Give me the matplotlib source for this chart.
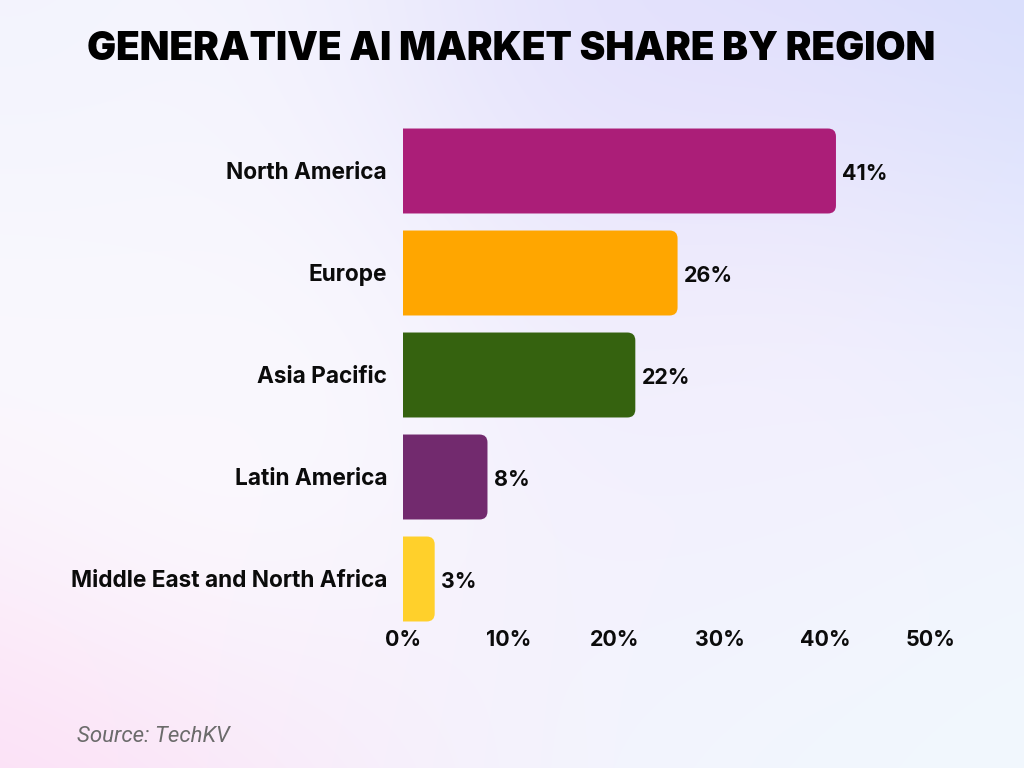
import numpy as np
import matplotlib
matplotlib.use('Agg')
import matplotlib.pyplot as plt
from matplotlib.path import Path
from matplotlib.patches import PathPatch
from matplotlib.colors import to_rgb
from matplotlib.transforms import ScaledTranslation

regions = ['North America', 'Europe', 'Asia Pacific', 'Latin America', 'Middle East and North Africa']
shares = [41, 26, 22, 8, 3]
bar_colors = ['#AB1E78', '#FFA600', '#35620F', '#722A6E', '#FFD02B']
xticks = [0, 10, 20, 30, 40, 50]

W, H = 1024, 768
plt.rcParams['font.family'] = ['Inter', 'DejaVu Sans']
fig = plt.figure(figsize=(W/100, H/100), dpi=100)

# background, soft blend of a few colour spots
bg = fig.add_axes([0, 0, 1, 1], zorder=0)
bg.axis('off')
yy, xx = np.mgrid[0:H, 0:W]
base = np.array(to_rgb('#F6F4FD'))
img = np.ones((H, W, 3)) * base
spots = [(1024, 0, 400, '#D3DBFD', 1.0), (0, 768, 300, '#FCDDF5', 1.0), (1024, 768, 380, '#F1F8FE', 1.0),
         (0, 220, 260, '#FCFBFE', 0.9), (680, 90, 220, '#E2DDFC', 0.7), (250, 420, 200, '#FBFAFE', 0.8),
         (760, 400, 200, '#F8F2FD', 0.6), (0, 0, 200, '#F2F3FD', 0.8)]
for sx, sy, r, c, a in spots:
    w = a*np.exp(-((xx-sx)**2+(yy-sy)**2)/(2*r**2))[..., None]
    img = img*(1-w) + np.array(to_rgb(c))*w
bg.imshow(img, aspect='auto', extent=[0, W, H, 0])

ax = fig.add_axes([403/W, 1-630/H, (931-403)/W, 510/H], zorder=1)
ax.patch.set_alpha(0)
ax.set_xlim(0, 50)
ax.set_ylim(4.5, -0.5)

# bars with rounded right end
bar_h = 0.833
rx = 8/(528/50)
ry = 8/102
for i, (v, c) in enumerate(zip(shares, bar_colors)):
    t, b = i-bar_h/2, i+bar_h/2
    verts = [(0, t), (v-rx, t), (v, t), (v, t+ry), (v, b-ry), (v, b), (v-rx, b), (0, b), (0, t)]
    codes = [Path.MOVETO, Path.LINETO, Path.CURVE3, Path.CURVE3, Path.LINETO, Path.CURVE3, Path.CURVE3, Path.LINETO, Path.CLOSEPOLY]
    ax.add_patch(PathPatch(Path(verts, codes), facecolor=c, edgecolor='none'))
    ax.annotate('%d%%' % v, (v, i), xytext=(4.5, -2.3), textcoords='offset points', va='center', ha='left',
                fontsize=15.4, fontweight='bold', color='#0b0b0b')

for s in ax.spines.values():
    s.set_visible(False)
ax.set_yticks(range(len(regions)))
ax.set_yticklabels(regions, fontsize=16.3, fontweight='bold', color='#0b0b0b')
ax.set_xticks(xticks)
ax.set_xticklabels(['%d%%' % x for x in xticks], fontsize=15.4, fontweight='bold', color='#0b0b0b')
ax.tick_params(length=0)
ax.tick_params(axis='y', pad=11.5)
ax.tick_params(axis='x', pad=0)

# region names sit a bit above the bar centres
up = ScaledTranslation(0, 0.7/72, fig.dpi_scale_trans)
for lab in ax.get_yticklabels():
    lab.set_transform(lab.get_transform() + up)

fig.text(511/W, 1-49/H, 'GENERATIVE AI MARKET SHARE BY REGION', ha='center', va='center',
         fontsize=27.85, fontweight='black', color='black', zorder=2)
fig.text(77/W, 1-736/H, 'Source: TechKV', ha='left', va='center', fontsize=16, style='italic',
         family='Roboto', color='#6b6b6b', zorder=2)

fig.savefig('out.png', dpi=100)
